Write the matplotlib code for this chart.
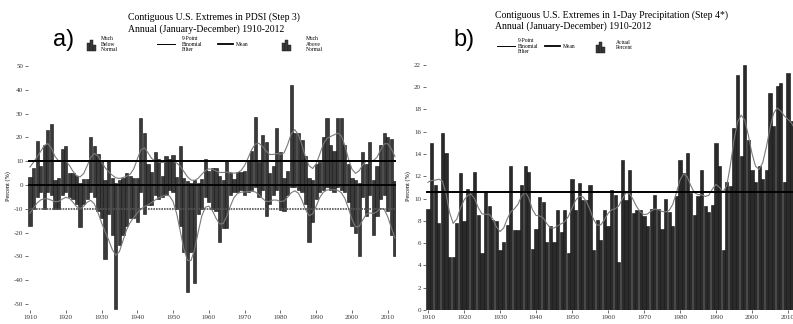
import numpy as np
import matplotlib
matplotlib.use("Agg")
import matplotlib.pyplot as plt
from matplotlib.patches import Rectangle
from matplotlib.lines import Line2D

plt.rcParams['font.family'] = ['Liberation Serif', 'DejaVu Serif']
plt.rcParams['axes.unicode_minus'] = False

# years shared by both panels
years = np.arange(1910, 2013)

# panel a: PDSI extremes, percent of area much above / much below normal
pdsi_above = [3.5, 7, 18.5, 8, 17, 23, 25.5, 2, 3, 15,
              16.5, 5, 5, 4, 1, 2.5, 2.5, 20, 16.5, 13,
              10, 2, 10, 3, 1, 2, 3, 5, 4, 3,
              3, 28, 22, 9, 5.5, 14, 11, 4, 12, 11,
              12.5, 3.5, 16.5, 3, 1.5, 1, 2, 1, 2.5, 11,
              6, 7, 7, 4, 2, 10, 5, 2.5, 5.5, 5.5,
              6, 10, 14.5, 28.5, 9.5, 21, 18, 5, 8, 24,
              14, 3, 6, 42, 22, 22, 19, 12, 3, 2,
              9, 9.7, 20, 28, 16.7, 14.5, 28, 28, 16.7, 9,
              3, 2, 1, 14, 9, 18, 2, 8, 16.7, 22,
              20, 19.5, 1.5]
pdsi_below = [-17, -10, -5, -3, -10, -3, -4, -10, -10, -4,
              -3, -5, -6, -8, -17.5, -8, -6, -3, -5, -11,
              -14, -31, -12, -21, -52, -25, -21, -17, -14, -14,
              -15.5, -3, -12, -8.5, -8.5, -4, -6, -5, -4, -2,
              -3, -10, -17, -28, -45, -28, -41, -12, -10, -5,
              -7, -10, -11, -24, -18, -18, -4, -3, -3, -2,
              -4, -3, -2, -1, -5, -2, -13, -8, -4, -2,
              -10.5, -11, -4, -1, -1, -2, -3, -8, -24, -15.5,
              -6, -3, -2, -1, -2, -3, -1, -2, -3, -7,
              -17, -20, -30, -5, -13, -4, -21, -13, -6, -4,
              -11, -21, -30]
pdsi_above_mean = 10.2
pdsi_below_mean = -10.0

# panel b: 1-day precipitation extremes, actual percent
precip = [9.1, 15.0, 11.2, 7.8, 15.9, 14.1, 4.8, 4.8, 7.8, 12.3,
          8.0, 10.9, 10.5, 12.4, 8.5, 5.1, 10.7, 9.3, 8.1, 8.0,
          5.4, 6.1, 7.6, 12.9, 7.2, 7.2, 11.2, 12.9, 12.4, 5.5,
          7.3, 10.1, 9.7, 6.1, 7.5, 6.1, 9.0, 7.0, 9.0, 5.1,
          11.8, 9.0, 11.4, 9.9, 9.9, 11.2, 5.4, 8.1, 6.3, 9.0,
          7.5, 10.8, 10.3, 4.3, 13.5, 9.9, 12.6, 8.7, 9.0, 9.0,
          8.4, 7.5, 9.1, 10.3, 9.1, 7.3, 10.0, 8.8, 7.5, 10.2,
          13.5, 12.3, 14.1, 10.5, 8.5, 10.2, 12.6, 9.3, 8.8, 9.4,
          15.0, 12.9, 5.4, 11.5, 11.1, 16.3, 21.1, 13.8, 22.0, 15.3,
          12.6, 11.5, 12.9, 11.8, 12.6, 19.5, 16.5, 20.1, 20.4, 11.5,
          21.3, 17.0, 14.0]
precip_mean = 10.6

xticks = [1910, 1920, 1930, 1940, 1950, 1960, 1970, 1980, 1990, 2000, 2010]
a_yticks = [-50, -40, -30, -20, -10, 0, 10, 20, 30, 40, 50]
b_yticks = [0, 2, 4, 6, 8, 10, 12, 14, 16, 18, 20, 22]


def binomial(v):
    # 9-point binomial filter, weights renormalised at the ends
    v = np.asarray(v, float)
    w = np.array([1, 8, 28, 56, 70, 56, 28, 8, 1], float)
    out = np.empty(len(v))
    for k in range(len(v)):
        lo = max(0, k - 4)
        hi = min(len(v), k + 5)
        ww = w[lo - k + 4:hi - k + 4]
        out[k] = np.dot(ww, v[lo:hi]) / ww.sum()
    return out


W, H = 793, 324
fig = plt.figure(figsize=(W / 100, H / 100), dpi=100)

bar_face = '#3a3a3a'
bar_edge = '#111111'
smooth_col = '#7a7a7a'


def px(x, y):
    return x / W, 1 - y / H


def style_axis(ax):
    for s in ax.spines.values():
        s.set_visible(False)
    ax.tick_params(labelsize=5, length=2, width=0.5, pad=1.5, colors='#333333')
    ax.set_xticks(xticks)


# ---- panel a ----
axa = fig.add_axes([28 / W, 14 / H, 368 / W, 248 / H])
axa.bar(years, pdsi_above, width=0.9, color=bar_face, edgecolor=bar_edge, linewidth=0.4)
axa.bar(years, pdsi_below, width=0.9, color=bar_face, edgecolor=bar_edge, linewidth=0.4)
axa.plot(years, binomial(pdsi_above), color=smooth_col, lw=0.8)
axa.plot(years, binomial(pdsi_below), color=smooth_col, lw=0.8)
axa.axhline(pdsi_above_mean, color='black', lw=1.4)
axa.axhline(0, color='black', lw=1.3)
axa.axhline(pdsi_below_mean, color='#555555', lw=1.2, ls=(0, (1, 0.6)))
axa.set_xlim(1909.45, 2012.3)
axa.set_ylim(-52.5, 51.7)
axa.set_yticks(a_yticks)
style_axis(axa)
axa.set_ylabel('Percent (%)', fontsize=4.5, labelpad=2)

# ---- panel b ----
axb = fig.add_axes([426 / W, 14 / H, 367 / W, 248 / H])
axb.bar(years, precip, width=0.88, color='#2a2a2a', edgecolor='#0e0e0e', linewidth=0.4)
axb.plot(years, binomial(precip), color=smooth_col, lw=0.8)
axb.axhline(precip_mean, color='black', lw=1.4)
axb.set_xlim(1909.45, 2011.4)
axb.set_ylim(0, 22.26)
axb.set_yticks(b_yticks)
style_axis(axb)
axb.set_ylabel('Percent (%)', fontsize=4.5, labelpad=2)

# ---- titles and panel letters ----
fig.text(*px(128, 17), 'Contiguous U.S. Extremes in PDSI (Step 3)', fontsize=7, va='center')
fig.text(*px(128, 29), 'Annual (January-December) 1910-2012', fontsize=7, va='center')
fig.text(*px(495, 15), 'Contiguous U.S. Extremes in 1-Day Precipitation (Step 4*)', fontsize=7, va='center')
fig.text(*px(495, 26), 'Annual (January-December) 1910-2012', fontsize=7, va='center')
fig.text(*px(53, 40), 'a)', fontsize=17, va='center', family='Liberation Sans')
fig.text(*px(453, 40), 'b)', fontsize=17, va='center', family='Liberation Sans')


# ---- hand-built legends ----
def bar_icon(x0, y0):
    hs = [8, 11, 6]
    for k, h in enumerate(hs):
        fx, fy = px(x0 + k * 3.2, y0)
        fig.patches.append(Rectangle((fx, fy), 2.6 / W, h / H, transform=fig.transFigure,
                                     facecolor=bar_face, edgecolor=bar_edge, lw=0.3))


def line_icon(x0, x1, y, lw):
    (fx0, fy), (fx1, _) = px(x0, y), px(x1, y)
    fig.lines.append(Line2D([fx0, fx1], [fy, fy], transform=fig.transFigure, color='black', lw=lw))


def legend_text(x, y, s):
    fig.text(*px(x, y), s, fontsize=4, va='center', linespacing=1.1)


bar_icon(87, 51)
legend_text(101, 44, 'Much\nBelow\nNormal')
line_icon(157, 175, 44, 0.7)
legend_text(182, 44, '9-Point\nBinomial\nFilter')
line_icon(218, 233, 44, 1.3)
legend_text(236, 44, 'Mean')
bar_icon(282, 51)
legend_text(306, 44, 'Much\nAbove\nNormal')

line_icon(497, 515, 46, 0.7)
legend_text(518, 46, '9-Point\nBinomial\nFilter')
line_icon(545, 560, 46, 1.3)
legend_text(563, 46, 'Mean')
bar_icon(596, 53)
legend_text(616, 45, 'Actual\nPercent')

fig.savefig('out.png', dpi=100)
